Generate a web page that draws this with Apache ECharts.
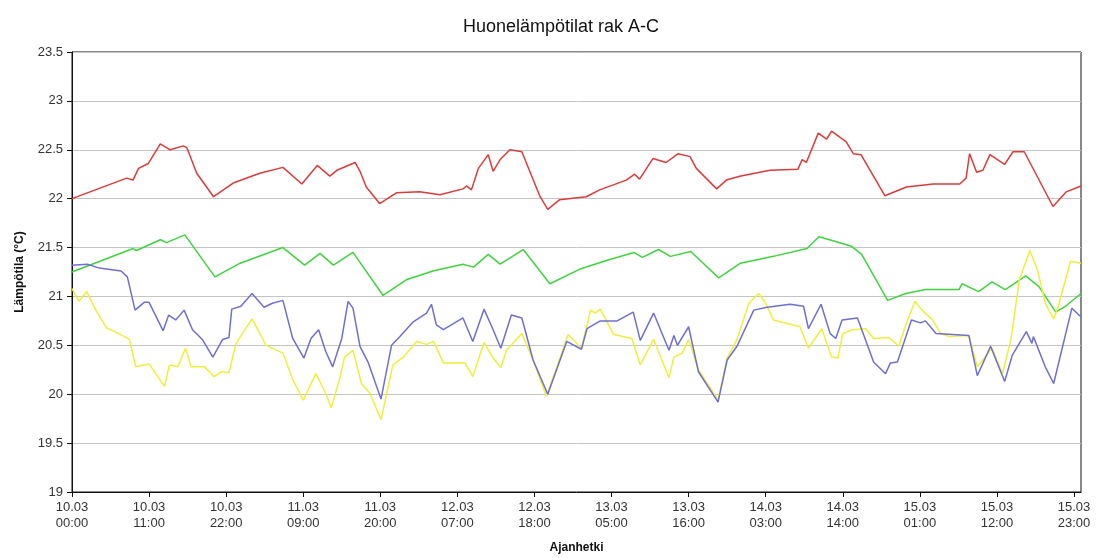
<!DOCTYPE html>
<html>
<head>
<meta charset="utf-8">
<script src="https://cdn.jsdelivr.net/npm/echarts@6/dist/echarts.min.js"></script>
<style>
html,body{margin:0;padding:0;background:#fff;}
#chart{width:1103px;height:558px;}
</style>
</head>
<body>
<div id="chart"></div>
<script>
// Tick positions (hours from 10.03 00:00) and their labels
const tickHours = [0, 11, 22, 33, 44, 55, 66, 77, 88, 99, 110, 121, 132, 143];
const tickLabels = ["10.03\n00:00","10.03\n11:00","10.03\n22:00","11.03\n09:00","11.03\n20:00","12.03\n07:00","12.03\n18:00","13.03\n05:00","13.03\n16:00","14.03\n03:00","14.03\n14:00","15.03\n01:00","15.03\n12:00","15.03\n23:00"];

// Red series
const redT = [0,7.8,8.7,9.5,10.9,12.6,14.0,15.9,16.4,17.8,20.2,23.0,26.8,30.1,32.8,35.0,36.8,37.8,40.4,41.1,42.0,43.9,46.3,49.6,52.5,55.8,56.3,57.0,58.0,59.4,60.1,61.1,62.5,64.2,66.8,67.9,69.6,73.4,75.3,79.1,80.3,81.0,82.9,84.8,86.5,88.2,89.1,92.0,93.4,95.3,99.6,103.6,104.2,104.8,106.5,107.7,108.4,110.5,111.5,112.6,116.0,119.1,122.9,126.7,127.6,128.1,129.1,130.0,131.0,133.1,134.3,135.9,140.0,141.9,144];
const redV = [22.00,22.21,22.19,22.31,22.36,22.56,22.50,22.54,22.52,22.26,22.02,22.16,22.26,22.32,22.15,22.34,22.23,22.29,22.37,22.28,22.12,21.95,22.06,22.07,22.04,22.10,22.13,22.09,22.31,22.45,22.28,22.40,22.50,22.48,22.02,21.89,21.99,22.02,22.09,22.19,22.25,22.20,22.41,22.37,22.46,22.43,22.31,22.10,22.19,22.23,22.29,22.30,22.40,22.37,22.67,22.61,22.69,22.58,22.46,22.45,22.03,22.12,22.15,22.15,22.21,22.46,22.27,22.29,22.45,22.35,22.48,22.48,21.92,22.07,22.13];

// Green series
const greenT = [0,8.7,9.2,12.6,13.5,16.1,20.4,24.0,30.1,33.2,35.4,37.3,40.1,44.4,47.7,51.5,55.8,57.3,59.4,61.1,64.4,68.2,72.5,76.4,80.2,81.4,83.7,85.4,88.3,92.3,95.4,100.1,104.9,106.6,109.1,111.3,112.7,116.4,119.0,121.8,126.6,127.0,129.4,131.3,133.2,136.1,138.0,140.4,141.8,144];
const greenV = [21.25,21.49,21.47,21.58,21.55,21.63,21.20,21.34,21.50,21.32,21.44,21.32,21.45,21.01,21.17,21.26,21.33,21.30,21.43,21.33,21.48,21.13,21.28,21.37,21.45,21.40,21.48,21.41,21.46,21.19,21.34,21.41,21.49,21.61,21.56,21.51,21.43,20.96,21.03,21.07,21.07,21.13,21.05,21.15,21.07,21.21,21.10,20.84,20.90,21.03];

// Yellow series
const yellowT = [0,1.0,2.1,3.4,4.9,6.7,8.2,9.1,11.0,13.2,13.9,15.1,16.2,17.0,18.9,20.3,21.3,22.4,23.4,25.7,27.7,30.1,31.5,33.0,34.8,36.2,37.0,38.2,38.9,40.1,41.3,42.5,44.1,45.8,47.3,49.2,50.6,51.6,53.0,56.1,57.2,58.8,60.1,61.2,62.0,64.2,65.8,67.7,69.4,70.8,72.7,74.0,74.7,75.4,77.3,79.9,81.1,83.0,85.2,85.9,87.1,88.0,89.4,92.2,93.5,94.9,96.6,98.0,99.0,100.1,103.9,105.1,107.0,108.4,109.3,110.0,111.4,113.3,114.4,116.6,118.0,119.0,120.3,121.3,122.8,124.0,125.2,128.0,129.2,131.3,132.8,134.0,135.2,136.7,137.8,138.9,140.1,140.8,142.5,144];
const yellowV = [21.08,20.95,21.05,20.86,20.68,20.62,20.56,20.28,20.31,20.08,20.30,20.28,20.47,20.28,20.28,20.18,20.23,20.22,20.52,20.77,20.50,20.42,20.15,19.94,20.21,20.01,19.86,20.16,20.38,20.45,20.11,20.01,19.74,20.30,20.38,20.54,20.51,20.54,20.32,20.32,20.18,20.53,20.37,20.27,20.45,20.62,20.35,19.98,20.32,20.61,20.47,20.86,20.83,20.87,20.61,20.57,20.30,20.56,20.17,20.38,20.42,20.56,20.25,19.94,20.37,20.56,20.93,21.03,20.93,20.76,20.69,20.47,20.67,20.38,20.37,20.62,20.66,20.67,20.57,20.58,20.49,20.71,20.95,20.86,20.76,20.62,20.59,20.60,20.28,20.47,20.21,20.56,21.17,21.47,21.27,20.93,20.77,20.91,21.36,21.34];

// Blue series
const blueT = [0,2.2,3.9,7.0,7.9,9.0,10.3,11.0,13.0,13.8,14.8,16.0,17.2,18.6,20.1,21.5,22.4,22.8,24.1,25.7,27.4,28.6,30.1,31.5,33.1,34.1,35.2,36.2,37.2,38.5,39.4,40.1,41.1,42.3,44.1,45.6,46.8,48.7,50.6,51.3,52.0,53.0,55.8,57.2,58.8,60.1,61.2,62.7,64.2,65.8,67.9,69.4,70.6,72.7,73.5,75.4,77.8,80.1,81.1,83.0,85.2,85.9,86.4,88.0,89.4,92.2,93.5,94.9,97.3,99.2,102.5,104.4,105.1,106.9,108.2,109.0,109.9,112.1,114.4,116.1,116.8,117.8,119.8,121.1,121.8,123.3,128.0,129.2,131.1,133.1,134.2,136.2,137.0,137.2,138.9,140.1,142.7,144];
const blueV = [21.32,21.33,21.29,21.26,21.20,20.86,20.94,20.94,20.65,20.81,20.76,20.86,20.66,20.56,20.38,20.56,20.58,20.87,20.90,21.03,20.89,20.93,20.96,20.57,20.37,20.57,20.66,20.44,20.28,20.57,20.95,20.88,20.49,20.32,19.95,20.50,20.59,20.74,20.83,20.92,20.71,20.66,20.78,20.54,20.87,20.66,20.47,20.81,20.78,20.35,20.00,20.30,20.54,20.46,20.67,20.75,20.75,20.84,20.55,20.83,20.45,20.60,20.50,20.69,20.23,19.92,20.35,20.49,20.86,20.89,20.92,20.90,20.67,20.92,20.62,20.57,20.76,20.78,20.33,20.21,20.32,20.33,20.76,20.73,20.75,20.62,20.60,20.19,20.49,20.13,20.40,20.64,20.52,20.59,20.28,20.11,20.88,20.79];

function pairs(t, v) { return t.map((x, i) => [x, v[i]]); }
function lineSeries(name, t, v, color) {
  return {
    name: name, type: 'line', data: pairs(t, v),
    showSymbol: false, symbol: 'none', smooth: false,
    lineStyle: { color: color, width: 1.5 },
    itemStyle: { color: color },
    animation: false
  };
}

const chart = echarts.init(document.getElementById('chart'), null, { renderer: 'canvas' });
const FONT = '"Liberation Sans", Arial, sans-serif';
chart.setOption({
  backgroundColor: '#ffffff',
  animation: false,
  title: {
    text: 'Huonelämpötilat rak A-C',
    left: 556, top: 13, textAlign: 'center',
    textStyle: { fontFamily: FONT, fontSize: 18, fontWeight: 'normal', color: '#111' }
  },
  grid: {
    left: 72, right: 22, top: 52, bottom: 66,
    outerBoundsMode: 'none', containLabel: false,
    show: true, borderColor: '#111', borderWidth: 1, backgroundColor: 'transparent'
  },
  xAxis: {
    type: 'value', min: 0, max: 144,
    name: 'Ajanhetki', nameLocation: 'middle', nameGap: 50,
    nameTextStyle: { fontFamily: FONT, fontSize: 12, fontWeight: 'bold', color: '#111' },
    axisLine: { show: true, lineStyle: { color: '#111', width: 1 } },
    axisTick: { show: true, length: 5, customValues: tickHours, lineStyle: { color: '#111' } },
    axisLabel: {
      customValues: tickHours, margin: 7,
      fontFamily: FONT, fontSize: 13, color: '#333', lineHeight: 16,
      formatter: function (val) { const i = tickHours.indexOf(val); return i >= 0 ? tickLabels[i] : ''; }
    },
    splitLine: { show: false }
  },
  yAxis: {
    type: 'value', min: 19, max: 23.5, interval: 0.5,
    name: 'Lämpötila (°C)', nameLocation: 'middle', nameGap: 46, nameRotate: 90,
    nameTextStyle: { fontFamily: FONT, fontSize: 12, fontWeight: 'bold', color: '#111' },
    axisLine: { show: true, lineStyle: { color: '#111', width: 1 } },
    axisTick: { show: true, length: 5, lineStyle: { color: '#111' } },
    axisLabel: { margin: 9, fontFamily: FONT, fontSize: 13, color: '#333' },
    splitLine: { show: true, lineStyle: { color: '#c4c4c4', width: 1 } }
  },
  series: [
    lineSeries('A', redT, redV, '#dd3b3b'),
    lineSeries('B', greenT, greenV, '#3fd43f'),
    lineSeries('C', yellowT, yellowV, '#efef3c'),
    lineSeries('D', blueT, blueV, '#6f6fd2')
  ]
});
</script>
</body>
</html>
